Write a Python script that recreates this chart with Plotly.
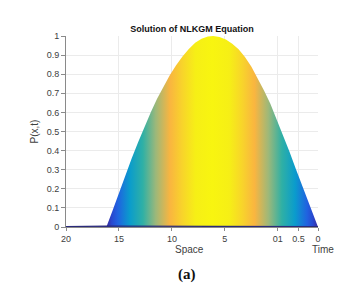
import plotly.graph_objects as go

# Silhouette of the surface as seen in the picture (horizontal position in Space units, reversed axis)
space = [20, 18, 16.15, 15.6, 15.0, 14.4, 13.8, 13.2, 12.6, 12.0, 11.4, 10.8, 10.2, 9.6, 9.0,
         8.4, 7.8, 7.2, 6.6, 6.1, 5.5, 4.9, 4.3, 3.7, 3.1, 2.5, 1.9, 1.3, 0.7, 0.1,
         -0.5, -1.1, -1.7, -2.3, -2.9, -3.4, -3.8]
P = [0.0, 0.002, 0.005, 0.086, 0.179, 0.27, 0.358, 0.443, 0.524, 0.60, 0.671, 0.736, 0.795, 0.847, 0.893,
     0.932, 0.965, 0.985, 0.997, 1.0, 0.995, 0.982, 0.959, 0.93, 0.89, 0.84, 0.78, 0.715, 0.645, 0.565,
     0.48, 0.395, 0.305, 0.22, 0.13, 0.055, 0.0]

tick_vals = [20, 15, 10, 5, 0, -1.95, -3.8]
tick_text = ["20", "15", "10", "5", "01", "0.5", "0"]
y_ticks = [0, 0.1, 0.2, 0.3, 0.4, 0.5, 0.6, 0.7, 0.8, 0.9, 1]
y_text = ["0", "0.1", "0.2", "0.3", "0.4", "0.5", "0.6", "0.7", "0.8", "0.9", "1"]

grad_stops = [0, 0.024, 0.052, 0.109, 0.171, 0.232, 0.299, 0.36, 0.42, 0.5,
              0.58, 0.64, 0.70, 0.766, 0.829, 0.891, 0.948, 0.976, 1]
grad_colors = ["#3a2c9e", "#2848d0", "#2062e0", "#0a9ccc", "#2fb0a5", "#9cb87a", "#f9b540",
               "#f8d52a", "#f6ef16", "#f8f510", "#f6ef16", "#f8d52a", "#f9b540", "#9cb87a",
               "#2fb0a5", "#0a9ccc", "#2062e0", "#2848d0", "#3a2c9e"]

FONT = "Liberation Sans, Arial, sans-serif"
font_axis = dict(family=FONT, size=9, color="#404040")

fig = go.Figure()
fig.add_trace(go.Scatter(
    x=space, y=P, mode="lines", line=dict(width=0, color="rgba(0,0,0,0)"),
    fill="tozeroy",
    fillgradient=dict(type="horizontal", start=space[2], stop=space[-1],
                      colorscale=[[s, c] for s, c in zip(grad_stops, grad_colors)]),
    hoverinfo="skip", showlegend=False))
fig.add_trace(go.Scatter(
    x=[space[0], space[2], space[-1]], y=[0.002, 0.005, 0.002], mode="lines",
    line=dict(width=1.3, color="#2a2a7a"), hoverinfo="skip", showlegend=False))

fig.update_layout(
    width=362, height=284,
    margin=dict(l=58, r=52, t=28, b=65, autoexpand=False),
    paper_bgcolor="white", plot_bgcolor="white",
    title=dict(text="<b>Solution of NLKGM Equation</b>", x=0.5, xref="paper", xanchor="center",
               y=1 - 21 / 284, yref="container", yanchor="middle",
               font=dict(family=FONT, size=9, color="#111")),
    xaxis=dict(range=[20, -3.8], tickvals=tick_vals, ticktext=tick_text, automargin=False,
               showgrid=True, gridcolor="#ebebeb", gridwidth=1, zeroline=False,
               showline=True, linecolor="#8a8a8a", linewidth=1,
               ticks="outside", ticklen=3, tickcolor="#8a8a8a", tickfont=font_axis,
               ticklabelstandoff=0),
    yaxis=dict(range=[0, 1], tickvals=y_ticks, ticktext=y_text, automargin=False,
               showgrid=True, gridcolor="#ebebeb", gridwidth=1, zeroline=False,
               showline=True, linecolor="#8a8a8a", linewidth=1,
               ticks="outside", ticklen=4, tickcolor="#8a8a8a", tickfont=font_axis,
               title=dict(text="P(x,t)", font=dict(family=FONT, size=10, color="#404040"),
                          standoff=6)),
    annotations=[
        dict(text="Space", x=(181 - 58) / 252, xref="paper", y=-0.12, yref="paper", showarrow=False,
             xanchor="center", yanchor="middle", font=dict(family=FONT, size=10, color="#404040")),
        dict(text="Time", x=(315 - 58) / 252, xref="paper", y=-0.12, yref="paper", showarrow=False,
             xanchor="center", yanchor="middle", font=dict(family=FONT, size=10, color="#404040")),
        dict(text="<b>(a)</b>", x=0.479, xref="paper", y=-0.25, yref="paper", showarrow=False,
             xanchor="center", yanchor="middle",
             font=dict(family="Liberation Serif, Times New Roman, serif", size=15, color="#111")),
    ],
)

fig.write_html("out.html")
